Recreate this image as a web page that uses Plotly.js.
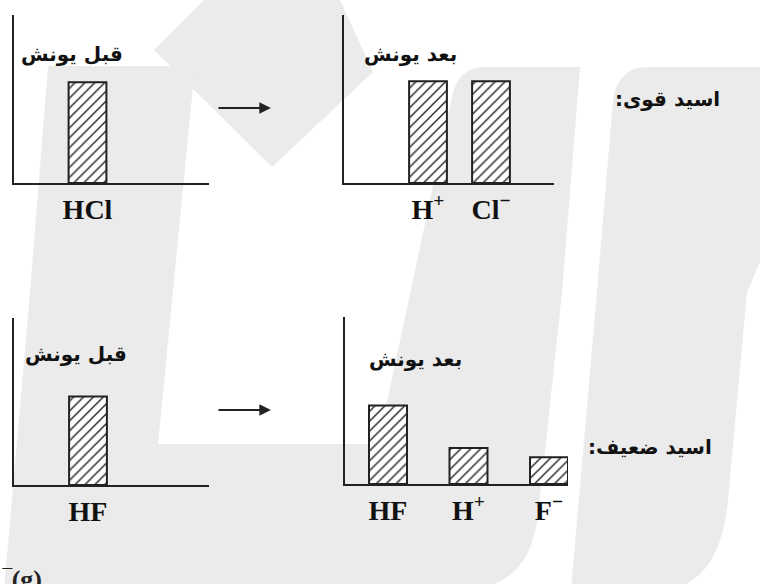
<!DOCTYPE html>
<html>
<head>
<meta charset="utf-8">
<script src="https://cdn.plot.ly/plotly-3.0.1.min.js"></script>
<style>
  html, body { margin:0; padding:0; background:#ffffff; }
  #chart { width:760px; height:584px; }
</style>
</head>
<body>
<div id="chart"></div>
<script>

/* ==========================================
   DATA
========================================== */

const strongBefore = ["HCl"];
const strongBeforeValues = [6.0];

const strongAfter = ["H<sup>+</sup>", "Cl<sup>−</sup>"];
const strongAfterValues = [6.05, 6.05];

const weakBefore = ["HF"];
const weakBeforeValues = [5.3];

const weakAfter = ["HF", "H<sup>+</sup>", "F<sup>−</sup>"];
const weakAfterValues = [4.7, 2.15, 1.6];

const beforeTitle = "قبل یونش";
const afterTitle = "بعد یونش";
const strongLabel = "اسید قوی:\u200F";
const weakLabel = "اسید ضعیف:\u200F";


/* ==========================================
   HELPERS (pixel -> paper)
========================================== */

const W = 760, H = 584;

function px(x){ return x / W; }
function py(y){ return 1 - y / H; }

function path(cmds){
    // cmds: [["M",x,y],["L",x,y],["Q",cx,cy,x,y],["Z"]]
    return cmds.map(c=>{
        if(c[0] === "Z") return "Z";
        let s = c[0];
        for(let i = 1; i < c.length; i += 2){
            s += " " + px(c[i]).toFixed(4) + "," + py(c[i+1]).toFixed(4);
        }
        return s;
    }).join(" ");
}


/* ==========================================
   TRACES
========================================== */

const ink = "#222222";

function hatchBar(x, y, xa, ya, width){
    return {
        type:"bar",
        x:x,
        y:y,
        xaxis:xa,
        yaxis:ya,
        width:width,
        marker:{
            color:"#ffffff",
            line:{ color:ink, width:2 },
            pattern:{ shape:"/", fgcolor:ink, bgcolor:"#ffffff", size:7, solidity:0.2 }
        },
        hoverinfo:"skip",
        showlegend:false
    };
}

const traces = [
    hatchBar(strongBefore, strongBeforeValues, "x", "y", 0.6),
    hatchBar(strongAfter, strongAfterValues, "x2", "y2", 0.6),
    hatchBar(weakBefore, weakBeforeValues, "x3", "y3", 0.6),
    hatchBar(weakAfter, weakAfterValues, "x4", "y4", 0.472)
];


/* ==========================================
   AXES
========================================== */

function xAxis(x0, x1, range, anchor){
    return {
        domain:[px(x0), px(x1)],
        anchor:anchor,
        type:"category",
        range:range,
        showline:true,
        linecolor:ink,
        linewidth:2,
        showgrid:false,
        zeroline:false,
        ticks:"",
        ticklabelstandoff:0,
        tickfont:{ family:"Liberation Serif", size:28, color:"#111111", weight:"bold" },
        fixedrange:true
    };
}

function yAxis(top, bottom, anchor){
    return {
        domain:[py(bottom), py(top)],
        anchor:anchor,
        range:[0, 10],
        showline:true,
        linecolor:ink,
        linewidth:2,
        showgrid:false,
        zeroline:false,
        showticklabels:false,
        ticks:"",
        fixedrange:true
    };
}


/* ==========================================
   WATERMARK
========================================== */

const wm = "#ebebeb";

const watermark = [
    // diamond
    path([["M",154,50],["L",204,0],["L",340,0],["L",373,72],["L",272,167],["Z"]]),
    // left stroke + bottom band + middle stroke
    path([
        ["M",48,66],["L",195,66],["L",158,444],["L",378,444],["L",452,97],
        ["Q",458,67,485,67],["L",580,67],["L",562,292],["L",543,470],["L",538,515],
        ["Q",530,584,470,590],["L",4,590],["L",30,292],["Z"]
    ]),
    // right stroke
    path([
        ["M",613,100],["Q",618,67,648,67],["L",765,67],["L",765,250],
        ["L",747,292],["L",728,500],["Q",720,584,665,590],["L",571,590],["L",597,292],["Z"]
    ])
].map(p=>({
    type:"path",
    xref:"paper",
    yref:"paper",
    path:p,
    fillcolor:wm,
    line:{ width:0 },
    layer:"below"
}));


/* ==========================================
   ANNOTATIONS
========================================== */

const faFont = { family:"DejaVu Sans", size:20, color:"#111111", weight:"bold" };

function label(text, x, y, font){
    return {
        xref:"paper", yref:"paper",
        x:px(x), y:py(y),
        xanchor:"center", yanchor:"middle",
        text:text,
        showarrow:false,
        font:font
    };
}

function arrow(x0, x1, y){
    return {
        xref:"paper", yref:"paper",
        x:px(x1), y:py(y),
        ax:x0 - x1, ay:0,
        text:"",
        showarrow:true,
        arrowhead:2,
        arrowsize:1.3,
        arrowwidth:1.8,
        arrowcolor:ink,
        standoff:0
    };
}

const annotations = [
    label(beforeTitle, 72, 54, faFont),
    label(afterTitle, 411, 54, faFont),
    label(beforeTitle, 76, 354, faFont),
    label(afterTitle, 415, 359, faFont),
    label(strongLabel, 667, 99, faFont),
    label(weakLabel, 650, 447, faFont),
    arrow(217, 271, 108),
    arrow(217, 271, 410),
    {
        xref:"paper", yref:"paper",
        x:0, y:py(563),
        xanchor:"left", yanchor:"top",
        text:"‾(g)",
        showarrow:false,
        font:{ family:"Liberation Serif", size:26, color:ink, weight:"bold" }
    }
];


/* ==========================================
   LAYOUT
========================================== */

const layout = {
    width:W,
    height:H,
    margin:{ l:0, r:0, t:0, b:0 },
    paper_bgcolor:"#ffffff",
    plot_bgcolor:"rgba(0,0,0,0)",
    showlegend:false,
    bargap:0,

    xaxis: xAxis(14, 209, [-73.5/63, 121.5/63], "y"),
    yaxis: yAxis(15, 183, "x"),

    xaxis2: xAxis(344, 554, [-84/63, 126/63], "y2"),
    yaxis2: yAxis(15, 183, "x2"),

    xaxis3: xAxis(14, 209, [-74/63, 121/63], "y3"),
    yaxis3: yAxis(318, 485, "x3"),

    xaxis4: xAxis(345, 568, [-43/80.5, 180/80.5], "y4"),
    yaxis4: yAxis(317, 484, "x4"),

    shapes:watermark,
    annotations:annotations
};


Plotly.newPlot("chart", traces, layout, { staticPlot:true, displayModeBar:false });

</script>
</body>
</html>
